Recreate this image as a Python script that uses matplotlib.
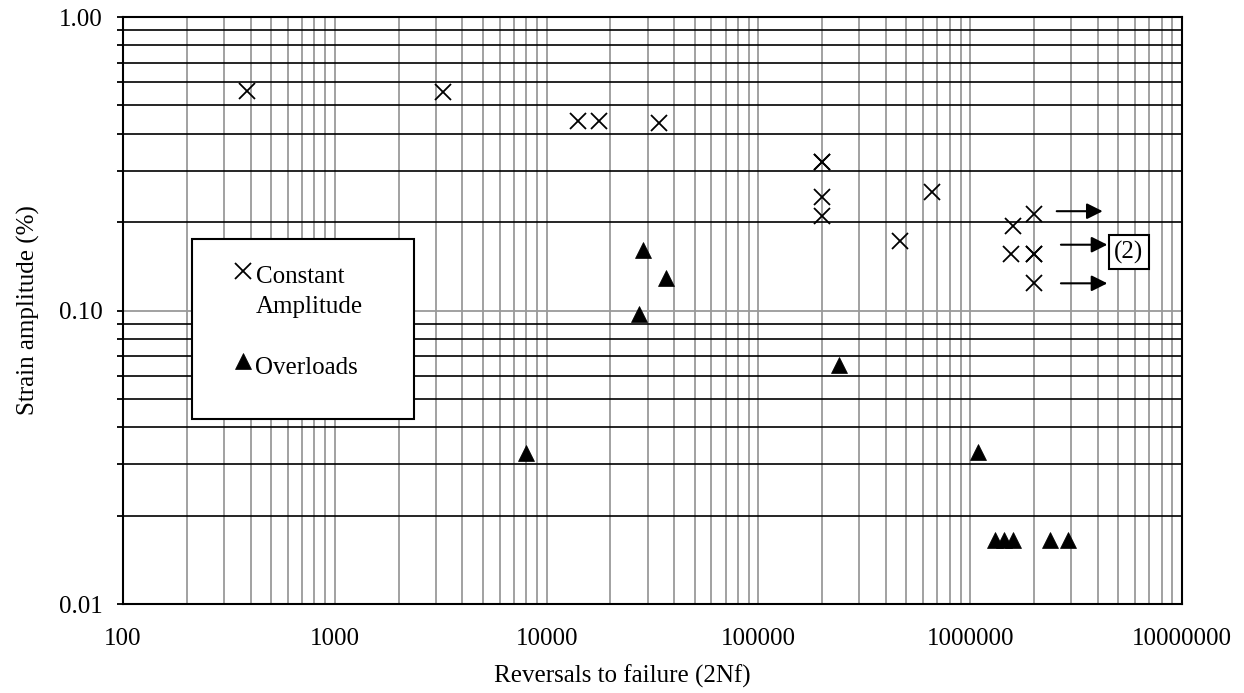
import matplotlib
matplotlib.use("Agg")
import matplotlib.pyplot as plt
from matplotlib.ticker import LogLocator, NullFormatter
from matplotlib.patches import Rectangle

plt.rcParams["font.family"] = ["Liberation Serif", "DejaVu Serif"]
plt.rcParams["font.size"] = 18

# -----------------------------
# Data
# -----------------------------
# constant amplitude tests
ca_reversals = [386, 3240, 14000, 17700, 34000, 200000, 200000, 200000, 200000,
                466000, 660000, 1550000, 1600000, 2000000, 2000000, 2000000, 2000000]
ca_strain = [0.56, 0.555, 0.442, 0.442, 0.436, 0.321, 0.321, 0.244, 0.21,
             0.172, 0.253, 0.156, 0.194, 0.213, 0.156, 0.156, 0.124]

# overload tests
ol_reversals = [8000, 27400, 28500, 36500, 241000, 1085000,
                1310000, 1444000, 1598000, 2380000, 2905000]
ol_strain = [0.0327, 0.0973, 0.161, 0.129, 0.0652, 0.0329,
             0.0165, 0.0165, 0.0165, 0.0165, 0.0165]

# run-out arrows
arrow_start = [2.56e6, 2.68e6, 2.68e6]
arrow_end = [4.22e6, 4.44e6, 4.44e6]
arrow_strain = [0.218, 0.1676, 0.1238]
runout_label = "(2)"
runout_pos = (5.6e6, 0.158)

x_ticks = [100, 1000, 10000, 100000, 1000000, 10000000]
x_ticklabels = ["100", "1000", "10000", "100000", "1000000", "10000000"]
y_ticks = [0.01, 0.1, 1.0]
y_ticklabels = ["0.01", "0.10", "1.00"]

# -----------------------------
# Plot
# -----------------------------
fig = plt.figure(figsize=(12.44, 6.93), dpi=100)
ax = fig.add_axes([0.0989, 0.1284, 0.8513, 0.8470])

ax.set_xscale("log")
ax.set_yscale("log")
ax.set_xlim(100, 1e7)
ax.set_ylim(0.01, 1.0)

ax.plot(ca_reversals, ca_strain, linestyle="none", marker="x", markersize=12,
        markeredgewidth=1.3, color="black", zorder=3)
ax.plot(ol_reversals, ol_strain, linestyle="none", marker="^", markersize=12,
        markeredgewidth=0.5, color="black", zorder=3)

for xs, xe, ys in zip(arrow_start, arrow_end, arrow_strain):
    ax.annotate("", xy=(xe, ys), xytext=(xs, ys),
                arrowprops=dict(arrowstyle="-|>", color="black", lw=1.5,
                                mutation_scale=24, shrinkA=0, shrinkB=0),
                zorder=4)
ax.text(runout_pos[0], runout_pos[1], runout_label, ha="center", va="center",
        fontsize=18, zorder=4,
        bbox=dict(boxstyle="square,pad=0.22", facecolor="white",
                  edgecolor="black", linewidth=1.5))

# -----------------------------
# Axes formatting
# -----------------------------
ax.set_xticks(x_ticks)
ax.set_xticklabels(x_ticklabels)
ax.set_yticks(y_ticks)
ax.set_yticklabels(y_ticklabels)
ax.xaxis.set_minor_locator(LogLocator(base=10, subs=range(2, 10)))
ax.yaxis.set_minor_locator(LogLocator(base=10, subs=range(2, 10)))
ax.xaxis.set_minor_formatter(NullFormatter())
ax.yaxis.set_minor_formatter(NullFormatter())

ax.tick_params(axis="x", which="both", length=0, pad=17)
ax.tick_params(axis="y", which="both", direction="out", length=4.5,
               width=1.3, color="black", pad=10)

ax.set_axisbelow(True)
ax.xaxis.grid(True, which="both", color="#9a9a9a", linewidth=1.3)
ax.yaxis.grid(True, which="minor", color="black", linewidth=1.2)
ax.yaxis.grid(True, which="major", color="#9a9a9a", linewidth=1.3)

for side in ["left", "right", "top", "bottom"]:
    ax.spines[side].set_color("black")
    ax.spines[side].set_linewidth(1.5)

ax.set_xlabel("Reversals to failure (2Nf)")
ax.set_ylabel("Strain amplitude (%)")
ax.xaxis.set_label_coords(0.4717, -0.103)
ax.yaxis.set_label_coords(-0.078, 0.5)

# -----------------------------
# Legend box (drawn by hand so the marker sits on the first line)
# -----------------------------
ax.add_patch(Rectangle((0.0652, 0.3152), 0.2096, 0.3066, transform=ax.transAxes,
                       facecolor="white", edgecolor="black", linewidth=1.5,
                       zorder=5))
ax.plot([0.1133], [0.5673], transform=ax.transAxes, marker="x", markersize=11,
        markeredgewidth=1.3, color="black", zorder=6, clip_on=False)
ax.plot([0.1133], [0.414], transform=ax.transAxes, marker="^", markersize=11,
        markeredgewidth=0.5, color="black", zorder=6, clip_on=False)
ax.text(0.1256, 0.5468, "Constant", transform=ax.transAxes, va="baseline",
        ha="left", zorder=6)
ax.text(0.1256, 0.4957, "Amplitude", transform=ax.transAxes, va="baseline",
        ha="left", zorder=6)
ax.text(0.1246, 0.3918, "Overloads", transform=ax.transAxes, va="baseline",
        ha="left", zorder=6)

fig.savefig("out.png", dpi=100)
